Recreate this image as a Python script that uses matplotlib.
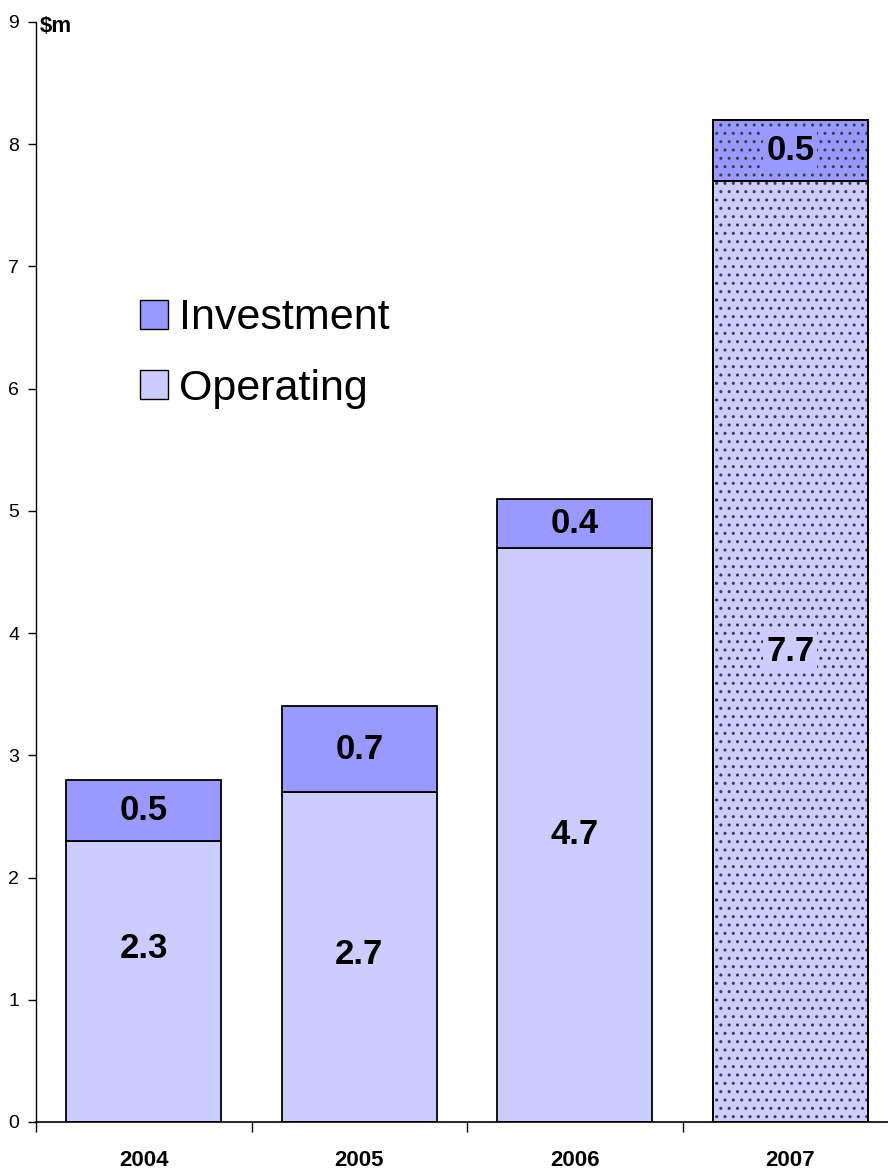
import matplotlib
matplotlib.use("Agg")
import matplotlib.pyplot as plt
from matplotlib.patches import Patch

years = ["2004", "2005", "2006", "2007"]
operating = [2.3, 2.7, 4.7, 7.7]
investment = [0.5, 0.7, 0.4, 0.5]

plt.rcParams["font.family"] = ["Liberation Sans", "DejaVu Sans"]
plt.rcParams["hatch.linewidth"] = 1.0

W, H = 888, 1169
fig = plt.figure(figsize=(W / 100, H / 100), dpi=100)
ax = fig.add_axes([36 / W, (H - 1122) / H, (W - 36) / W, 1100 / H])

op_col = "#CCCCFF"
inv_col = "#9999FF"
x = list(range(len(years)))
width = 0.72
last = len(years) - 1

ax.bar(x, operating, width, color=op_col, edgecolor="black", linewidth=1.3, zorder=2)
ax.bar(x, investment, width, bottom=operating, color=inv_col,
       edgecolor="black", linewidth=1.3, zorder=2)
# последний год - с точечной заливкой (серые точки поверх)
ax.bar(x[last], operating[last] + investment[last], width, facecolor="none",
       edgecolor="#3a3a55", hatch="..", linewidth=0, zorder=3)
ax.bar(x[last], operating[last], width, facecolor="none", edgecolor="black",
       linewidth=1.3, zorder=4)
ax.bar(x[last], investment[last], width, bottom=operating[last],
       facecolor="none", edgecolor="black", linewidth=1.3, zorder=4)

# подписи значений (первая чуть выше центра, как в оригинале)
dy = [0.27, 0.02, 0, 0]
for i in x:
    box_op = box_inv = None
    if i == last:
        box_op = dict(facecolor=op_col, edgecolor="none", pad=2)
        box_inv = dict(facecolor=inv_col, edgecolor="none", pad=2)
    ax.text(i, operating[i] / 2 + dy[i], f"{operating[i]:.1f}", ha="center",
            va="center", fontsize=25, fontweight="bold", bbox=box_op, zorder=5)
    ax.text(i, operating[i] + investment[i] / 2, f"{investment[i]:.1f}",
            ha="center", va="center", fontsize=25, fontweight="bold",
            bbox=box_inv, zorder=5)

ax.set_yticks(range(10))
ax.tick_params(axis="y", length=6, width=1, labelsize=14, pad=6)
ax.set_xticks(x)
ax.set_xticklabels(years, fontsize=16, fontweight="bold")
ax.tick_params(axis="x", which="major", length=0, pad=20)
ax.set_xticks([-0.5, 0.5, 1.5, 2.5, 3.5], minor=True)
ax.tick_params(axis="x", which="minor", length=7, width=1)
ax.set_ylim(0, 9)
ax.set_xlim(-0.5, -0.5 + (W - 36) / 215.5)

for s in ["top", "right"]:
    ax.spines[s].set_visible(False)
ax.spines["left"].set_linewidth(1)
ax.spines["bottom"].set_linewidth(1.2)

fig.text(40 / W, 1 - 26 / H, "$m", fontsize=16, fontweight="bold", va="center")

handles = [Patch(facecolor=inv_col, edgecolor="black", label="Investment"),
           Patch(facecolor=op_col, edgecolor="black", label="Operating")]
fig.legend(handles=handles, loc="upper left", bbox_to_anchor=(106 / W, 1 - 264 / H),
           frameon=False, fontsize=31, handlelength=0.65, handleheight=0.65,
           handletextpad=0.25, labelspacing=0.7, borderpad=0.3)

fig.savefig("out.png", dpi=100)
